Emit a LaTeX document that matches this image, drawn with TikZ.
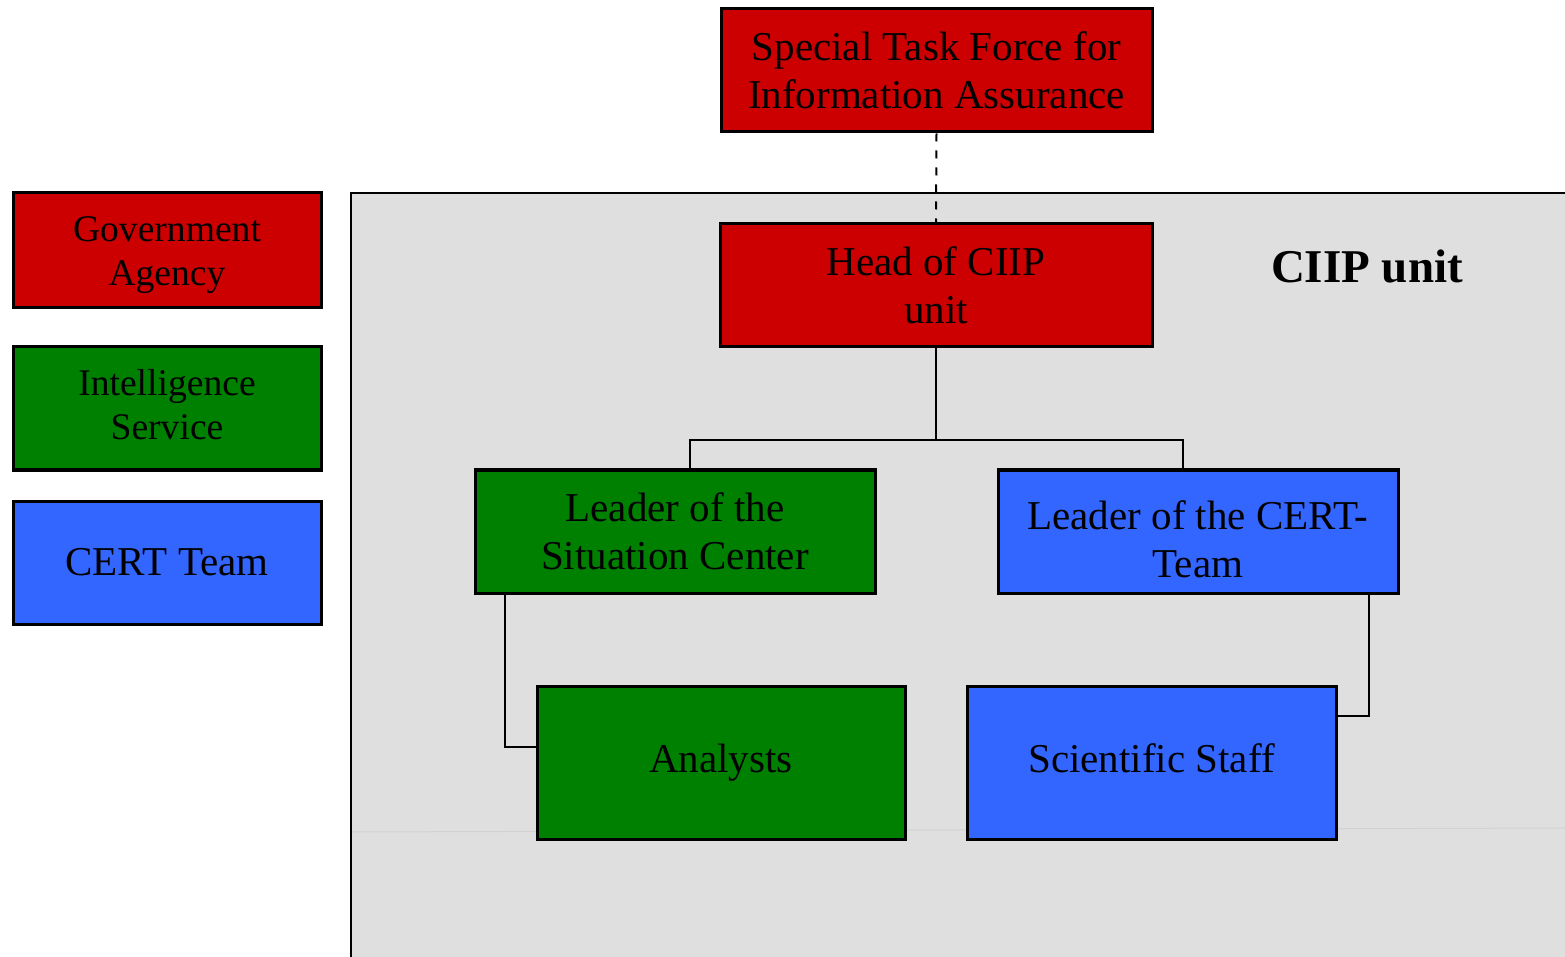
\documentclass[tikz,border=0pt]{standalone}
\usepackage{fontspec}
\setmainfont{Liberation Serif}
\definecolor{govred}{HTML}{CC0000}
\definecolor{intgreen}{HTML}{008000}
\definecolor{certblue}{HTML}{3366FF}
\definecolor{unitgray}{HTML}{DFDFDF}
\definecolor{seamgray}{HTML}{D2D2D2}
\begin{document}
\begin{tikzpicture}[x=0.5pt,y=-0.5pt,
  orgbox/.style={draw=black, line width=1.5pt, rectangle, align=center, inner sep=0pt,
    font=\fontsize{20.5pt}{24pt}\selectfont},
  keybox/.style={orgbox, minimum width=154pt},
  keytext/.style={align=center, inner sep=0pt, font=\fontsize{18.8pt}{22pt}\selectfont},
  orgtext/.style={align=center, inner sep=0pt, font=\fontsize{20.5pt}{24pt}\selectfont},
  link/.style={draw=black, line width=1pt}]
\useasboundingbox (0,0) rectangle (1565,957);

% the CIIP unit area
\fill[unitgray] (351,193) rectangle (1565,957);
\draw[seamgray, line width=0.5pt] (352,832) -- (1565,828);
\draw[line width=1pt] (351,957) -- (351,193) -- (1565,193);
\node[font=\bfseries\fontsize{23.5pt}{28pt}\selectfont] (unitlabel) at (1367,266) {CIIP unit};

% legend
\node[keybox, fill=govred, minimum height=57.5pt,
  label={[keytext, yshift=-2.5pt]center:Government\\Agency}] (kgov) at (167,250.5) {};
\node[keybox, fill=intgreen, minimum height=61.5pt,
  label={[keytext, yshift=2pt]center:Intelligence\\Service}] (kint) at (167,408.5) {};
\node[keybox, fill=certblue, minimum height=61.5pt,
  label={[orgtext]center:CERT Team}] (kcert) at (167,562.5) {};

% organisation
\node[orgbox, fill=govred, minimum width=215.5pt, minimum height=61.5pt] (task) at (936.5,70.5)
  {Special Task Force for\\Information Assurance};
\node[orgbox, fill=govred, minimum width=216pt, minimum height=61.5pt] (head) at (936,285.5)
  {Head of CIIP\\unit};
\node[orgbox, fill=intgreen, minimum width=200pt, minimum height=61.5pt] (lsc) at (675,531.5)
  {Leader of the\\Situation Center};
\node[orgbox, fill=certblue, minimum width=200pt, minimum height=61.5pt,
  label={[orgtext, yshift=-4pt]center:Leader of the CERT-\\Team}] (lcert) at (1198,531.5) {};
\node[orgbox, fill=intgreen, minimum width=184pt, minimum height=76.5pt] (analysts) at (721,762.5)
  {Analysts};
\node[orgbox, fill=certblue, minimum width=184.5pt, minimum height=76.5pt,
  label={[orgtext, yshift=2pt]center:Scientific Staff}] (staff) at (1151.5,762.5) {};

% connectors
\draw[link, dash pattern=on 4pt off 4.5pt] (task.south) -- (head.north);
\draw[link] (head.south) -- ++(0,92) -| ([xshift=7.5pt]lsc.north);
\draw[link] (head.south) -- ++(0,92) -| ([xshift=-7.5pt]lcert.north);
\draw[link] ([xshift=15.5pt]lsc.south west) |- ([yshift=7.75pt]analysts.west);
\draw[link] ([xshift=-15.5pt]lcert.south east) |- ([yshift=23.25pt]staff.east);
\end{tikzpicture}
\end{document}
